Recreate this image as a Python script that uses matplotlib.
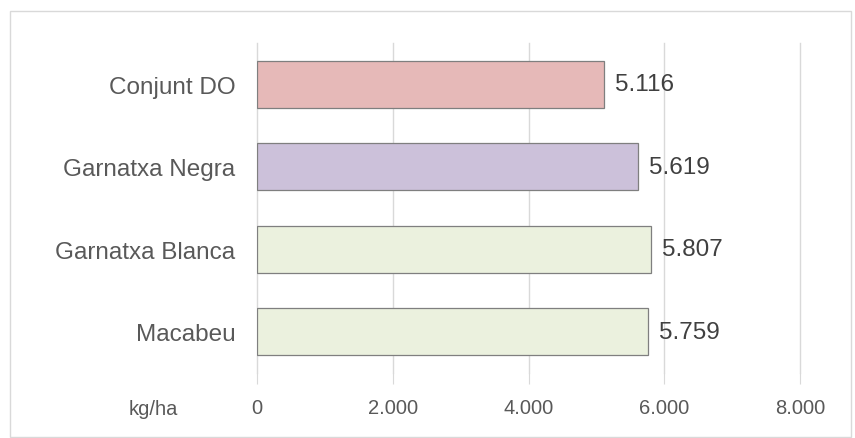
import matplotlib.pyplot as plt
from matplotlib.patches import Rectangle
from matplotlib.ticker import FuncFormatter

# varietats (de dalt a baix) i rendiment en kg/ha
categories = ['Conjunt DO', 'Garnatxa Negra', 'Garnatxa Blanca', 'Macabeu']
values = [5116, 5619, 5807, 5759]
colors = ['#E6B9B8', '#CCC1DA', '#EBF1DE', '#EBF1DE']

plt.rcParams['font.family'] = ['Liberation Sans', 'DejaVu Sans']
txt = '#595959'

fig = plt.figure(figsize=(8.55, 4.39), dpi=100)
fig.patches.append(Rectangle((10/855, 1-438/439), 841/855, 426/439,
                             transform=fig.transFigure, fill=False,
                             edgecolor='#D9D9D9', lw=1))
ax = fig.add_axes([257/855, 1-374/439, 543/855, 330/439])

ypos = list(range(len(categories)))[::-1]
ax.barh(ypos, values, height=0.57, color=colors, edgecolor='#7F7F7F', lw=0.9, zorder=3)
for y, v in zip(ypos, values):
    ax.text(v + 160, y, f'{v/1000:.3f}', va='center', ha='left', fontsize=17.5, color='#404040')

ax.set_xlim(0, 8000)
ax.set_ylim(-0.5, 3.5)
ax.set_xticks([0, 2000, 4000, 6000, 8000])
ax.xaxis.set_major_formatter(FuncFormatter(lambda x, p: '0' if x == 0 else f'{int(x):,}'.replace(',', '.')))
ax.set_yticks(ypos)
ax.set_yticklabels(categories)
ax.grid(axis='x', color='#D9D9D9', lw=1, zorder=0)
for gl in ax.get_xgridlines():
    gl.set_clip_on(False)
for s in ax.spines.values():
    s.set_visible(False)
ax.tick_params(axis='y', length=0, pad=15.5, labelsize=17.5, labelcolor=txt)
ax.tick_params(axis='x', length=8, color='#D9D9D9', pad=10, labelsize=14.5, labelcolor=txt)
fig.text(153/855, 1-410/439, 'kg/ha', ha='center', va='center', fontsize=14.5, color=txt)

fig.savefig('out.png', dpi=100)
